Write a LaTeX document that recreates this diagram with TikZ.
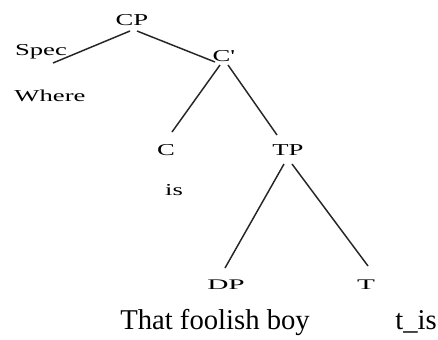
\documentclass[tikz,border=0pt]{standalone}
\usepackage{fontspec}
\setmainfont{Liberation Serif}
\newfontfamily\treefont[FakeStretch=1.6]{Liberation Serif}
\newfontfamily\smalltree[FakeStretch=2.0]{Liberation Serif}
\begin{document}
\begin{tikzpicture}[x=0.75pt,y=-0.75pt,
  lab/.style={inner sep=0pt,anchor=base,font=\treefont\fontsize{12.5pt}{14pt}\selectfont},
  slab/.style={inner sep=0pt,anchor=base,font=\smalltree\fontsize{11pt}{13pt}\selectfont},
  word/.style={inner sep=0pt,anchor=base,font=\fontsize{21.5pt}{25pt}\selectfont},
  branch/.style={line width=1.1pt,black!85}]
\useasboundingbox[fill=white] (0,0) rectangle (438,339);
\node[lab] (CP) at (132,25) {CP};
\node[lab] (Spec) at (41,55) {Spec};
\node[lab] (Cbar) at (224,61) {C'};
\node[lab] (Where) at (50,101) {Where};
\node[lab] (C) at (166,155) {C};
\node[lab] (is) at (174,195) {is};
\node[lab] (TP) at (288,155) {TP};
\node[slab] (DP) at (226,289) {DP};
\node[slab] (T) at (366,289) {T};
\node[word] (boy) at (215,329) {That foolish boy};
\node[word] (tis) at (416,329) {t\_is};
\draw[branch] ([shift={(-2,6)}]CP.base) -- ([shift={(12,8)}]Spec.base);
\draw[branch] ([shift={(5,6)}]CP.base) -- ([shift={(-9,1)}]Cbar.base);
\draw[branch] ([shift={(-4,4)}]Cbar.base) -- ([shift={(6,-23)}]C.base);
\draw[branch] ([shift={(4,4)}]Cbar.base) -- ([shift={(-11,-20)}]TP.base);
\draw[branch] ([shift={(-4,9)}]TP.base) -- ([shift={(-1,-21)}]DP.base);
\draw[branch] ([shift={(4,9)}]TP.base) -- ([shift={(2,-23)}]T.base);
\end{tikzpicture}
\end{document}
